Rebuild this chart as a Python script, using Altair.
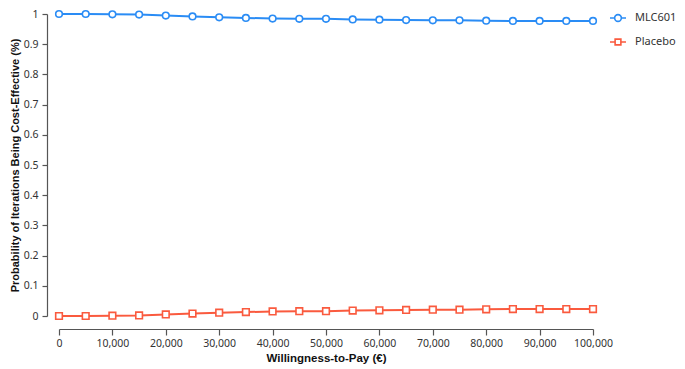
import altair as alt
import pandas as pd

wtp = [0, 5000, 10000, 15000, 20000, 25000, 30000, 35000, 40000, 45000, 50000,
       55000, 60000, 65000, 70000, 75000, 80000, 85000, 90000, 95000, 100000]
mlc601 = [1.0, 1.0, 0.999, 0.998, 0.995, 0.992, 0.989, 0.987, 0.985, 0.984, 0.984,
          0.982, 0.981, 0.980, 0.979, 0.979, 0.978, 0.977, 0.977, 0.977, 0.977]
placebo = [0.0, 0.0, 0.001, 0.002, 0.005, 0.008, 0.011, 0.013, 0.015, 0.016, 0.016,
           0.018, 0.019, 0.020, 0.021, 0.021, 0.022, 0.023, 0.023, 0.023, 0.023]
series = ["MLC601", "Placebo"]
colors = ["#2a8cf5", "#fa5a3e"]

rows = []
for x, a, b in zip(wtp, mlc601, placebo):
    rows.append({"wtp": x, "p": a, "s": series[0]})
    rows.append({"wtp": x, "p": b, "s": series[1]})
df = pd.DataFrame(rows)

# legend symbols: short line with the marker in the middle
circle_path = ("M-1,0L-0.42,0M0.42,0L1,0"
               "M-0.42,0A0.42,0.42,0,1,1,0.42,0A0.42,0.42,0,1,1,-0.42,0Z")
square_path = ("M-1,0L-0.36,0M0.36,0L1,0"
               "M-0.36,-0.36L0.36,-0.36L0.36,0.36L-0.36,0.36Z")

color_scale = alt.Scale(domain=series, range=colors)

x_enc = alt.X("wtp:Q", scale=alt.Scale(domain=[0, 100000], nice=False),
              axis=alt.Axis(title="Willingness-to-Pay (€)", values=list(range(0, 100001, 10000)),
                            format=",d", offset=13, grid=False, tickSize=6, labelOverlap=False,
                            labelFlush=False, labelPadding=3, titlePadding=4))
y_enc = alt.Y("p:Q", scale=alt.Scale(domain=[0, 1], nice=False),
              axis=alt.Axis(title="Probability of Iterations Being Cost-Effective (%)",
                            values=[0, 0.1, 0.2, 0.3, 0.4, 0.5, 0.6, 0.7, 0.8, 0.9, 1],
                            format="~g", offset=12, grid=False, tickSize=5, labelOverlap=False,
                            labelFlush=False, labelPadding=4, titlePadding=3, titleFontSize=11))

legend = alt.Legend(orient="none", legendX=550, legendY=-5,
                    labelFont="Noto Sans", labelFontSize=11,
                    labelColor="#333333", rowPadding=8,
                    symbolFillColor="white", symbolStrokeWidth=1.6,
                    symbolSize=256, symbolOpacity=1, labelOffset=8)

line = alt.Chart(df).mark_line(strokeWidth=2).encode(
    x=x_enc, y=y_enc,
    stroke=alt.Stroke("s:N", scale=color_scale, legend=None),
)

points = alt.Chart(df).mark_point(filled=False, fill="white", strokeWidth=1.6, opacity=1).encode(
    x=x_enc, y=y_enc,
    stroke=alt.Stroke("s:N", scale=color_scale, legend=None),
    shape=alt.Shape("s:N", scale=alt.Scale(domain=series, range=["circle", "square"]),
                    legend=None),
    size=alt.value(44),
)

legend_layer = alt.Chart(df).transform_filter("false").mark_point(
    filled=False, fill="white", strokeWidth=1.6).encode(
    x=x_enc, y=y_enc,
    stroke=alt.Stroke("s:N", scale=color_scale, legend=legend, title=None),
    shape=alt.Shape("s:N", scale=alt.Scale(domain=series, range=[circle_path, square_path]),
                    legend=legend, title=None),
    size=alt.value(256),
)

chart = alt.layer(line, points, legend_layer).resolve_scale(
    shape="independent"
).resolve_legend(shape="independent", stroke="independent").properties(
    width=534, height=302,
    autosize=alt.AutoSizeParams(type="none"),
    padding={"left": 51, "top": 6, "right": 84, "bottom": 53},
).configure_view(stroke=None).configure_axis(
    domainColor="#555555", tickColor="#555555", domainWidth=1.2, tickWidth=1.2,
    labelFont="Noto Sans", labelFontSize=10.5, labelColor="#333333",
    titleFont="Liberation Sans", titleFontSize=11.5, titleFontWeight="bold", titleColor="#111111",
)

chart.save("out.html", embed_options={"renderer": "svg", "actions": False})
